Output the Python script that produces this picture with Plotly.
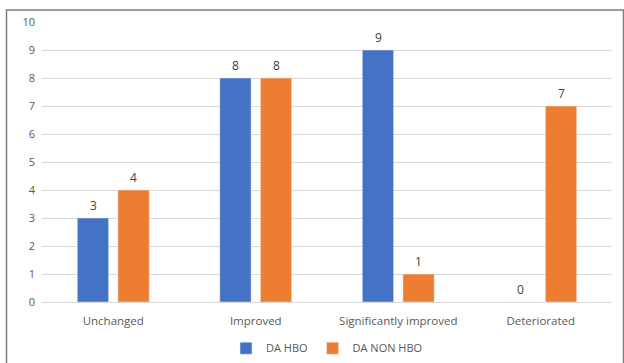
import plotly.graph_objects as go

categories = ["Unchanged", "Improved", "Significantly improved", "Deteriorated"]
da_hbo = [3, 8, 9, 0]
da_non_hbo = [4, 8, 1, 7]
y_ticks = list(range(0, 11))

series = [("DA HBO", da_hbo, "#4472C4", -20.25), ("DA NON HBO", da_non_hbo, "#ED7D31", 20.25)]

fig = go.Figure()
annotations = []
for name, vals, color, xs in series:
    fig.add_trace(go.Bar(name=name, x=categories, y=vals, marker_color=color))
    for c, v in zip(categories, vals):
        annotations.append(dict(x=c, y=v, xref="x", yref="y", text=str(v), showarrow=False,
                                xshift=xs, yshift=13, yanchor="middle",
                                font=dict(size=12, color="#404040")))

fig.update_layout(
    width=624, height=363,
    margin=dict(l=42, r=12, t=22, b=61, autoexpand=False),
    paper_bgcolor="white", plot_bgcolor="white",
    barmode="group", bargap=0.43, bargroupgap=0.23,
    font=dict(family="Open Sans, Liberation Sans, sans-serif", size=11, color="#595959"),
    showlegend=True,
    legend=dict(orientation="h", x=0.5, xanchor="center", y=-0.165, yanchor="middle",
                font=dict(size=11, color="#595959"), traceorder="normal", itemwidth=30),
    xaxis=dict(type="category", showgrid=False, showline=True, linecolor="#D9D9D9",
               linewidth=1, ticks="", tickfont=dict(size=11.5, color="#595959"),
               ticklabelstandoff=8, automargin=False),
    yaxis=dict(range=[0, 10], tickvals=y_ticks, showgrid=True, gridcolor="#D9D9D9",
               gridwidth=1, zeroline=False, showline=False, ticks="",
               tickfont=dict(size=11, color="#595959"), ticklabelstandoff=6,
               automargin=False),
    annotations=annotations,
    shapes=[dict(type="rect", xref="paper", yref="paper",
                 x0=(6.5 - 42) / 570, x1=(623.5 - 42) / 570,
                 y0=-0.4, y1=1 + 12 / 280,
                 line=dict(color="#7F7F7F", width=1.5), fillcolor="rgba(0,0,0,0)",
                 layer="below")],
)

fig.write_html("out.html")
